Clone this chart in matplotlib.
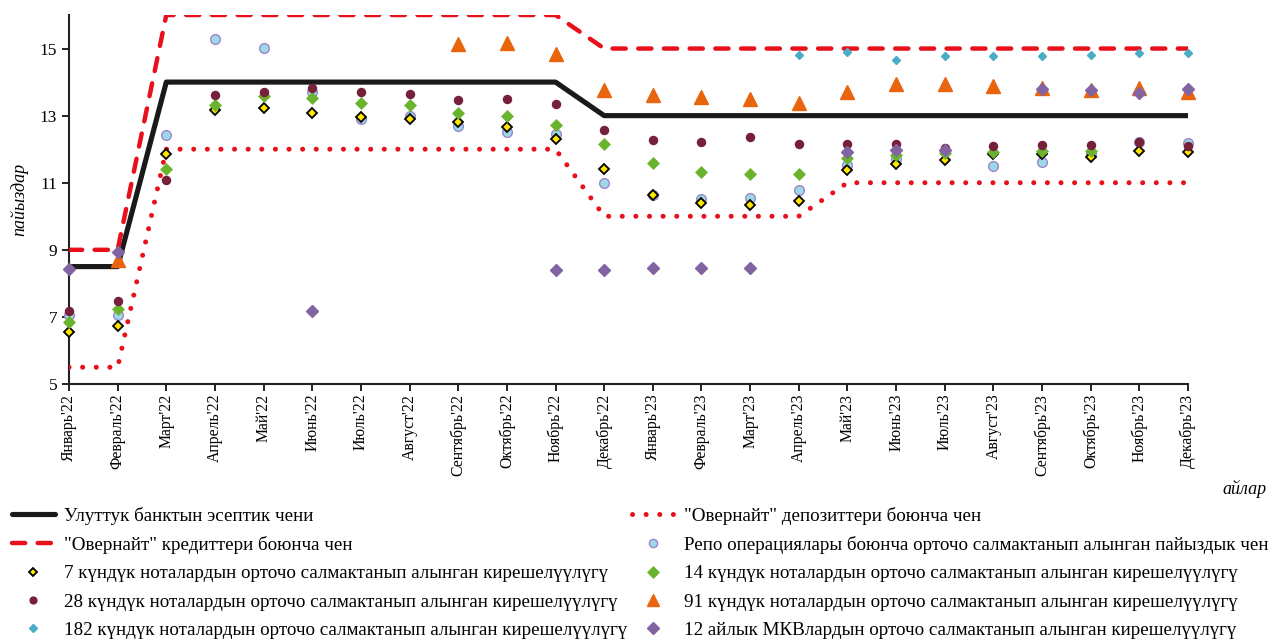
import numpy as np
import matplotlib
matplotlib.use("Agg")
import matplotlib.pyplot as plt

plt.rcParams['font.family'] = ['Liberation Serif', 'DejaVu Serif']
plt.rcParams['lines.scale_dashes'] = False

# -------------------
# DATA
# -------------------
months = ["Январь'22", "Февраль'22", "Март'22", "Апрель'22", "Май'22", "Июнь'22",
          "Июль'22", "Август'22", "Сентябрь'22", "Октябрь'22", "Ноябрь'22", "Декабрь'22",
          "Январь'23", "Февраль'23", "Март'23", "Апрель'23", "Май'23", "Июнь'23",
          "Июль'23", "Август'23", "Сентябрь'23", "Октябрь'23", "Ноябрь'23", "Декабрь'23"]

policy_rate = [8.5, 8.5, 14, 14, 14, 14, 14, 14, 14, 14, 14, 13,
               13, 13, 13, 13, 13, 13, 13, 13, 13, 13, 13, 13]
overnight_credit = [9, 9, 16, 16, 16, 16, 16, 16, 16, 16, 16, 15,
                    15, 15, 15, 15, 15, 15, 15, 15, 15, 15, 15, 15]
overnight_deposit = [5.5, 5.5, 12, 12, 12, 12, 12, 12, 12, 12, 12, 10,
                     10, 10, 10, 10, 11, 11, 11, 11, 11, 11, 11, 11]

nan = np.nan
repo = [7.05, 7.05, 12.43, 15.27, 15.01, 13.70, 12.90, 12.98, 12.70, 12.50, 12.46, 10.99,
        10.62, 10.51, 10.55, 10.78, 11.54, 11.70, 11.95, 11.50, 11.62, 11.85, 12.21, 12.18]
notes_7 = [6.54, 6.74, 11.85, 13.18, 13.24, 13.07, 12.96, 12.91, 12.81, 12.66, 12.30, 11.40,
           10.63, 10.41, 10.35, 10.45, 11.37, 11.55, 11.69, 11.86, 11.86, 11.77, 11.96, 11.91]
notes_14 = [6.85, 7.25, 11.42, 13.32, 13.58, 13.53, 13.38, 13.32, 13.08, 13.00, 12.71, 12.16,
            11.58, 11.33, 11.26, 11.26, 11.73, 11.82, 11.89, 11.91, 11.96, 11.96, nan, nan]
notes_28 = [7.18, 7.47, 11.09, 13.62, 13.71, 13.81, 13.71, 13.64, 13.47, 13.49, 13.35, 12.56,
            12.28, 12.22, 12.37, 12.16, 12.14, 12.16, 12.05, 12.08, 12.13, 12.13, 12.21, 12.08]
notes_91 = [nan, 8.71, nan, nan, nan, nan, nan, nan, 15.13, 15.16, 14.84, 13.77,
            13.62, 13.55, 13.49, 13.38, 13.69, 13.95, 13.93, 13.89, 13.83, 13.77, 13.81, 13.71]
notes_182 = [nan, nan, nan, nan, nan, nan, nan, nan, nan, nan, nan, nan,
             nan, nan, nan, 14.82, 14.91, 14.65, 14.77, 14.79, 14.77, 14.82, 14.87, 14.87]
bills_12m = [8.44, 8.94, nan, nan, nan, 7.17, nan, nan, nan, nan, 8.39, 8.39,
             8.47, 8.47, 8.46, nan, 11.91, 11.98, 11.98, nan, 13.79, 13.77, 13.68, 13.78]

labels = {
    "policy": "Улуттук банктын эсептик чени",
    "deposit": "\"Овернайт\" депозиттери боюнча чен",
    "credit": "\"Овернайт\" кредиттери боюнча чен",
    "repo": "Репо операциялары боюнча орточо салмактанып алынган пайыздык чен",
    "n7": "7 күндүк ноталардын орточо салмактанып алынган кирешелүүлүгү",
    "n14": "14 күндүк ноталардын орточо салмактанып алынган кирешелүүлүгү",
    "n28": "28 күндүк ноталардын орточо салмактанып алынган кирешелүүлүгү",
    "n91": "91 күндүк ноталардын орточо салмактанып алынган кирешелүүлүгү",
    "n182": "182 күндүк ноталардын орточо салмактанып алынган кирешелүүлүгү",
    "b12": "12 айлык МКВлардын орточо салмактанып алынган кирешелүүлүгү",
}

# -------------------
# PLOT
# -------------------
fig = plt.figure(figsize=(12.74, 6.39), dpi=100)
ax = fig.add_axes([69 / 1274, 1 - 384 / 639, (1188 - 69) / 1274, (384 - 15) / 639])

x = np.arange(len(months))
red = "#E8101A"

l_policy, = ax.plot(x, policy_rate, color="#1a1a1a", lw=3.7, solid_joinstyle="round",
                    solid_capstyle="round", zorder=3)
l_credit, = ax.plot(x, overnight_credit, color=red, lw=3.2, linestyle=(0, (9.5, 9)),
                    dash_capstyle="round", zorder=3)
l_deposit, = ax.plot(x, overnight_deposit, color=red, lw=3.6, linestyle=(0, (0.05, 9.75)),
                     dash_capstyle="round", zorder=3)

mk = dict(linestyle="none", zorder=4, clip_on=False)
s_repo, = ax.plot(x, repo, marker="o", ms=7, mfc="#9DD8E8", mec="#9B88C7", mew=1.0, **mk)
s_7, = ax.plot(x, notes_7, marker="D", ms=5.2, mfc="#FFE600", mec="black", mew=1.3, **mk)
s_14, = ax.plot(x, notes_14, marker="D", ms=6.6, mfc="#6AB42D", mec="#6AB42D", mew=0.5, **mk)
s_28, = ax.plot(x, notes_28, marker="o", ms=5.8, mfc="#77203A", mec="#77203A", **mk)
s_91, = ax.plot(x, notes_91, marker="^", ms=9.5, mfc="#E8650E", mec="#E8650E", **mk)
s_182, = ax.plot(x, notes_182, marker="D", ms=4.4, mfc="#4BACC6", mec="#4BACC6", **mk)
s_12, = ax.plot(x, bills_12m, marker="D", ms=6.6, mfc="#8264A2", mec="#8264A2", **mk)

ax.set_xlim(0, 23)
ax.set_ylim(5, 16)
ax.set_yticks([5, 7, 9, 11, 13, 15])
ax.set_xticks(x)
ax.set_xticklabels(months, rotation=90, fontsize=11.3)
ax.tick_params(axis="y", labelsize=12.5, direction="out", length=5, width=1.2)
ax.tick_params(axis="x", direction="out", length=5, width=1.2, pad=2)
for side in ["top", "right"]:
    ax.spines[side].set_visible(False)
for side in ["left", "bottom"]:
    ax.spines[side].set_linewidth(1.5)
    ax.spines[side].set_color("#222222")

ax.set_ylabel("пайыздар", fontsize=13, style="italic", labelpad=8)
fig.text(1222 / 1274, 1 - 489 / 639, "айлар", fontsize=13, style="italic",
         ha="left", va="center")

# legend: two separate columns
leg_kw = dict(loc="upper left", frameon=False, fontsize=13.7, handlelength=2.25,
              handletextpad=0.5, labelspacing=0.58, borderpad=0, borderaxespad=0,
              markerscale=0.85)
left_h = [l_policy, l_credit, s_7, s_28, s_182]
left_n = [labels["policy"], labels["credit"], labels["n7"], labels["n28"], labels["n182"]]
right_h = [l_deposit, s_repo, s_14, s_91, s_12]
right_n = [labels["deposit"], labels["repo"], labels["n14"], labels["n91"], labels["b12"]]
fig.legend(left_h, left_n, bbox_to_anchor=(12 / 1274, 1 - 507 / 639), **leg_kw)
fig.legend(right_h, right_n, bbox_to_anchor=(632 / 1274, 1 - 507 / 639), **leg_kw)

fig.savefig("out.png", dpi=100)
